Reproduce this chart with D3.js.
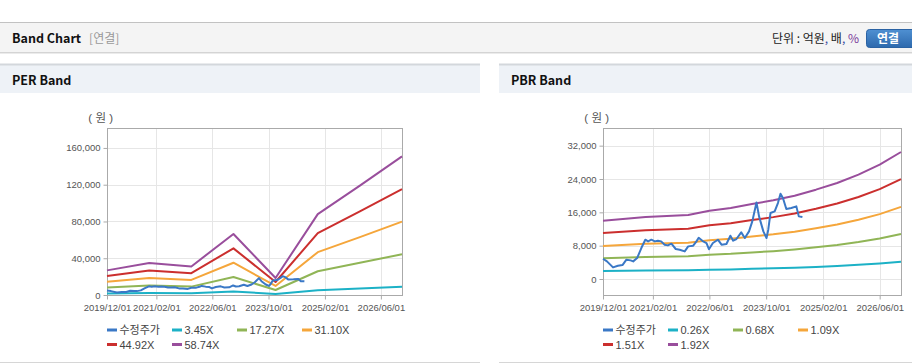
<!DOCTYPE html>
<html>
<head>
<meta charset="utf-8">
<script src="https://cdn.jsdelivr.net/npm/d3@7"></script>
<style>
body { margin: 0; background: #fff; }
svg { display: block; font-family: "Liberation Sans", "Noto Sans CJK KR", sans-serif; }
.head { font-family: "Noto Sans CJK KR", "Liberation Sans", sans-serif; }
</style>
</head>
<body>
<svg id="chart" width="912" height="364"></svg>
<script>
// x axis
const xTickDates = ['2019-12-01', '2021-02-01', '2022-06-01', '2023-10-01', '2025-02-01', '2026-06-01'];
const xDomainDates = ['2019-12-01', '2026-12-01'];

// PER band (yearly points)
const perDates = ['2019-12-01', '2020-12-01', '2021-12-01', '2022-12-01', '2023-12-01', '2024-12-01', '2025-12-01', '2026-12-01'];
const perLabels = ['수정주가', '3.45X', '17.27X', '31.10X', '44.92X', '58.74X'];
const per345 = [1700, 2042, 1825, 3899, 1087, 5168, 6990, 8856];
const per1727 = [8200, 10224, 9136, 19515, 5440, 25870, 34989, 44332];
const per3110 = [14500, 18411, 16452, 35143, 9797, 46588, 63009, 79834];
const per4492 = [20700, 26593, 23763, 50760, 14150, 67290, 91008, 115310];
const per5874 = [26800, 34774, 31074, 66376, 18503, 87993, 119007, 150786];
const perYTicks = [0, 40000, 80000, 120000, 160000];

// PBR band (half-year points)
const pbrDates = ['2019-12-01', '2020-12-01', '2021-12-01', '2022-06-01', '2022-12-01', '2023-06-01', '2023-12-01',
  '2024-06-01', '2024-12-01', '2025-06-01', '2025-12-01', '2026-06-01', '2026-12-01'];
const pbrLabels = ['수정주가', '0.26X', '0.68X', '1.09X', '1.51X', '1.92X'];
const pbr026 = [1896, 2015, 2080, 2221, 2308, 2438, 2557, 2708, 2903, 3120, 3391, 3716, 4128];
const pbr068 = [4959, 5270, 5440, 5808, 6035, 6375, 6686, 7084, 7594, 8160, 8869, 9719, 10795];
const pbr109 = [7948, 8448, 8720, 9311, 9674, 10219, 10718, 11355, 12172, 13080, 14216, 15578, 17304];
const pbr151 = [11011, 11703, 12080, 12898, 13401, 14156, 14848, 15729, 16862, 18120, 19693, 21581, 23971];
const pbr192 = [14000, 14880, 15360, 16400, 17040, 18000, 18880, 20000, 21440, 23040, 25040, 27440, 30480];
const pbrYTicks = [0, 8000, 16000, 24000, 32000];

// adjusted price (수정주가)
const priceDates = ['2019-12-01', '2020-01-04', '2020-02-25', '2020-04-07', '2020-05-16', '2020-06-19', '2020-07-25',
  '2020-08-16', '2020-09-19', '2020-10-25', '2020-11-28', '2020-12-22', '2021-01-19', '2021-02-18', '2021-03-16',
  '2021-04-13', '2021-05-13', '2021-06-10', '2021-07-10', '2021-08-16', '2021-09-19', '2021-11-01', '2021-12-01',
  '2022-01-13', '2022-02-10', '2022-03-01', '2022-04-04', '2022-05-07', '2022-05-28', '2022-07-01', '2022-08-13',
  '2022-09-13', '2022-10-25', '2022-11-28', '2022-12-22', '2023-01-19', '2023-03-01', '2023-04-01', '2023-05-07',
  '2023-06-04', '2023-07-10', '2023-08-01', '2023-09-07', '2023-10-04', '2023-10-19', '2023-11-07', '2023-12-13',
  '2024-01-10', '2024-02-01', '2024-02-22', '2024-03-22', '2024-05-04', '2024-06-16', '2024-07-07', '2024-08-07'];
const priceValues = [4870, 4230, 2790, 3190, 3350, 4630, 4470,
  4230, 5030, 7430, 9430, 9030, 9430, 9030, 9190,
  9030, 8230, 8070, 8470, 7200, 7030, 6630, 7830,
  7990, 9030, 9900, 9100, 8630, 7150, 8630, 9430,
  8230, 8390, 10390, 9190, 9590, 11190, 9830, 11430,
  13830, 18380, 15030, 11430, 9830, 11830, 15830, 16230,
  18230, 20470, 19430, 16790, 17030, 17430, 15030, 14870];

const colors = ['#3a78c6', '#1cb1c6', '#90b556', '#f5a63b', '#cb2f2e', '#994e9c'];

const parse = d3.timeParse('%Y-%m-%d');
const svg = d3.select('#chart');

// ---- top bar
svg.append('rect').attr('x', 0).attr('y', 22).attr('width', 912).attr('height', 30).attr('fill', '#f4f4f4');
svg.append('line').attr('x1', 0).attr('x2', 912).attr('y1', 22.5).attr('y2', 22.5).attr('stroke', '#c2c2c2');
svg.append('line').attr('x1', 0).attr('x2', 912).attr('y1', 52.5).attr('y2', 52.5).attr('stroke', '#d4d4d4');
svg.append('line').attr('x1', 0).attr('x2', 912).attr('y1', 53.5).attr('y2', 53.5).attr('stroke', '#ebebeb');

const title = svg.append('text').attr('class', 'head').attr('x', 12).attr('y', 42.5)
  .attr('font-size', 12.5).attr('fill', '#111');
title.append('tspan').attr('font-weight', 'bold').text('Band Chart');
title.append('tspan').attr('dx', 8).attr('fill', '#999').attr('font-size', 12).text('[연결]');

const unit = svg.append('text').attr('class', 'head').attr('x', 859).attr('y', 42.5)
  .attr('text-anchor', 'end').attr('font-size', 12).attr('fill', '#222');
unit.append('tspan').text('단위 : 억원');
unit.append('tspan').attr('fill', '#3a4aa0').text(',');
unit.append('tspan').text(' 배');
unit.append('tspan').attr('fill', '#3a4aa0').text(',');
unit.append('tspan').attr('fill', '#7a3a9a').text(' %');

const grad = svg.append('defs').append('linearGradient').attr('id', 'btn')
  .attr('x1', 0).attr('x2', 0).attr('y1', 0).attr('y2', 1);
grad.append('stop').attr('offset', 0).attr('stop-color', '#4f90d2');
grad.append('stop').attr('offset', 1).attr('stop-color', '#2d69ad');
svg.append('rect').attr('x', 866.5).attr('y', 29.5).attr('width', 50).attr('height', 18).attr('rx', 3)
  .attr('fill', 'url(#btn)').attr('stroke', '#2a62a3');
svg.append('text').attr('class', 'head').attr('x', 888).attr('y', 43).attr('text-anchor', 'middle')
  .attr('font-size', 12).attr('font-weight', 'bold').attr('fill', '#fff').text('연결');

// ---- one band panel
function drawPanel(cfg) {
  const g = svg.append('g');
  g.append('rect').attr('x', cfg.x0).attr('y', 64).attr('width', cfg.w).attr('height', 29).attr('fill', '#eef2f7');
  g.append('line').attr('x1', cfg.x0).attr('x2', cfg.x0 + cfg.w).attr('y1', 64.5).attr('y2', 64.5)
    .attr('stroke', '#d3d7dc').attr('stroke-width', 2);
  g.append('text').attr('class', 'head').attr('x', cfg.x0 + 12).attr('y', 84.5)
    .attr('font-size', 12.5).attr('font-weight', 'bold').attr('fill', '#111').text(cfg.title);
  g.append('line').attr('x1', cfg.x0).attr('x2', cfg.x0 + cfg.w).attr('y1', 362.5).attr('y2', 362.5)
    .attr('stroke', '#d6d6d6');

  const p = cfg.plot;
  const x = d3.scaleTime().domain(xDomainDates.map(parse)).range([p.left, p.right]);
  const y = d3.scaleLinear().domain(cfg.yDomain).range([p.bottom, p.top]);

  // grid
  g.append('g').selectAll('line').data(cfg.yTicks).join('line')
    .attr('x1', p.left).attr('x2', p.right)
    .attr('y1', d => Math.round(y(d)) + 0.5).attr('y2', d => Math.round(y(d)) + 0.5)
    .attr('stroke', '#e6e6e6');
  g.append('g').selectAll('line').data(xTickDates.map(parse)).join('line')
    .attr('x1', d => Math.round(x(d)) + 0.5).attr('x2', d => Math.round(x(d)) + 0.5)
    .attr('y1', p.top).attr('y2', p.bottom)
    .attr('stroke', '#e6e6e6');

  // axes
  const yAxis = g.append('g').attr('transform', `translate(${Math.round(p.left) + 0.5},0)`)
    .call(d3.axisLeft(y).tickValues(cfg.yTicks).tickSize(4).tickPadding(3).tickFormat(d3.format(',')));
  const xAxis = g.append('g').attr('transform', `translate(0,${Math.round(p.bottom) + 0.5})`)
    .call(d3.axisBottom(x).tickValues(xTickDates.map(parse)).tickSize(4).tickPadding(3)
      .tickFormat(d3.timeFormat('%Y/%m/%d')));
  [yAxis, xAxis].forEach(a => {
    a.select('.domain').remove();
    a.selectAll('line').attr('stroke', '#aaa');
    a.selectAll('text').attr('fill', '#555').attr('font-size', 9.5);
  });
  xAxis.selectAll('text').attr('dy', '0.9em');

  g.append('rect').attr('x', Math.round(p.left) + 0.5).attr('y', Math.round(p.top) + 0.5)
    .attr('width', Math.round(p.right - p.left)).attr('height', Math.round(p.bottom - p.top))
    .attr('fill', 'none').attr('stroke', '#aaa');

  g.append('text').attr('x', p.left + 6).attr('y', 122).attr('text-anchor', 'end')
    .attr('font-size', 11.5).attr('fill', '#555').text('( 원 )');

  // lines
  const line = d3.line().x(d => x(d[0])).y(d => y(d[1]));
  cfg.series.forEach((s, i) => {
    const pts = s.dates.map((d, j) => [parse(d), s.values[j]]);
    g.append('path').datum(pts).attr('d', line)
      .attr('fill', 'none').attr('stroke', colors[i]).attr('stroke-width', 2)
      .attr('stroke-linejoin', 'round');
  });
  // price on top
  g.selectAll('path').filter((d, i) => i === 0).raise();

  // legend
  const lg = g.append('g');
  cfg.labels.forEach((lab, i) => {
    const lx = p.left + (i % 4) * 65;
    const ly = 330 + Math.floor(i / 4) * 14.5;
    lg.append('line').attr('x1', lx).attr('x2', lx + 10).attr('y1', ly).attr('y2', ly)
      .attr('stroke', colors[i]).attr('stroke-width', 3);
    lg.append('text').attr('x', lx + 12.5).attr('y', ly + 4).attr('font-size', 11)
      .attr('fill', '#444').text(lab);
  });
}

drawPanel({
  x0: 0, w: 480, title: 'PER Band',
  plot: { left: 107, right: 402, top: 128, bottom: 295 },
  yDomain: [0, 181700], yTicks: perYTicks, labels: perLabels,
  series: [
    { dates: priceDates, values: priceValues },
    { dates: perDates, values: per345 },
    { dates: perDates, values: per1727 },
    { dates: perDates, values: per3110 },
    { dates: perDates, values: per4492 },
    { dates: perDates, values: per5874 },
  ],
});

drawPanel({
  x0: 499, w: 413, title: 'PBR Band',
  plot: { left: 603, right: 901, top: 128, bottom: 295 },
  yDomain: [-3840, 36240], yTicks: pbrYTicks, labels: pbrLabels,
  series: [
    { dates: priceDates, values: priceValues },
    { dates: pbrDates, values: pbr026 },
    { dates: pbrDates, values: pbr068 },
    { dates: pbrDates, values: pbr109 },
    { dates: pbrDates, values: pbr151 },
    { dates: pbrDates, values: pbr192 },
  ],
});
</script>
</body>
</html>
